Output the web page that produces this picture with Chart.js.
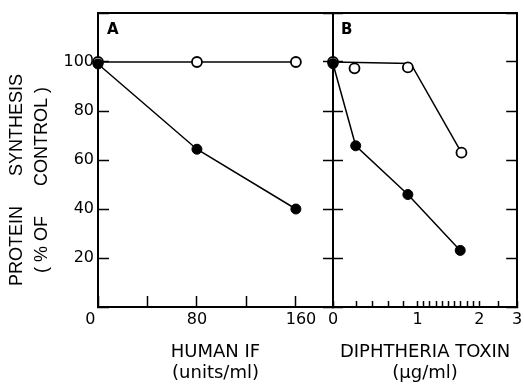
<!DOCTYPE html>
<html><head><meta charset="utf-8">
<script src="https://cdn.jsdelivr.net/npm/chart.js@4.4.1/dist/chart.umd.min.js"></script>
<style>
html,body{margin:0;padding:0;background:#fff;}
#wrap{position:relative;width:524px;height:384px;overflow:hidden;background:#fff;}
#cA{position:absolute;left:0;top:0;}
#cB{position:absolute;left:300px;top:0;}
</style></head><body>
<div id="wrap">
<canvas id="cA" width="345" height="384"></canvas>
<canvas id="cB" width="224" height="384"></canvas>
</div>
<script>
// ---------- data ----------
const IF_DOSE = [0, 80, 160];                 // human IF, units/ml
const IF_OPEN = [100, 100, 100];              // open circles
const IF_FILLED = [99.2, 64.4, 40];           // filled circles

const TOX_OPEN_DOSE = [0, 0.18, 0.86, 1.71];  // diphtheria toxin, ug/ml
const TOX_OPEN = [100, 97.4, 97.8, 63];
const TOX_OPEN_LINE_DOSE = [0, 0.9, 1.71];    // hand-drawn curve through open circles
const TOX_OPEN_LINE = [100, 99.4, 63];
const TOX_FILLED_DOSE = [0, 0.19, 0.86, 1.69];
const TOX_FILLED = [99.3, 65.8, 45.9, 23.1];

const Y_TICKS = [0, 20, 40, 60, 80, 100, 120];
const Y_LABELS = ['', '20', '40', '60', '80', '100', ''];
const IF_TICKS = [0, 40, 80, 120, 160];
const IF_LABELS = {0: '0   ', 80: '80', 160: '  160'};
const TOX_TICKS = [0, 0.2, 0.4, 0.6, 0.8, 1, 1.1, 1.2, 1.3, 1.4, 1.5, 1.6, 1.7, 1.8, 1.9, 2, 2.5, 3];
const TOX_LABELS = {0: '0', 1: '1', 2: '2', 3: '3'};

// ---------- non-linear toxin axis (as printed) ----------
function interp(v, xs, ys) {
  const n = xs.length - 1;
  if (v <= xs[0]) return ys[0] + (v - xs[0]) * (ys[1] - ys[0]) / (xs[1] - xs[0]);
  for (let i = 1; i <= n; i++) {
    if (v <= xs[i]) return ys[i - 1] + (v - xs[i - 1]) * (ys[i] - ys[i - 1]) / (xs[i] - xs[i - 1]);
  }
  return ys[n] + (v - xs[n]) * (ys[n] - ys[n - 1]) / (xs[n] - xs[n - 1]);
}
const WARP_V = [0, 0.2, 0.4, 0.6, 0.8, 1, 2, 3];
const WARP_F = [0, 24, 40, 56, 71, 85, 147, 185].map(p => p / 185);
const LinearScale = Chart.LinearScale || Chart.registry.getScale('linear');
class WarpScale extends LinearScale {
  getPixelForValue(value) {
    if (value === null || value === undefined || isNaN(value)) return NaN;
    return this.getPixelForDecimal(interp(value, WARP_V, WARP_F));
  }
  getValueForPixel(pixel) {
    return interp(this.getDecimalForPixel(pixel), WARP_F, WARP_V);
  }
}
WarpScale.id = 'warp';
WarpScale.defaults = {};
Chart.register(WarpScale);

// ---------- styling helpers ----------
const INK = '#000';
const TICK_FONT = {family: '"DejaVu Sans", sans-serif', size: 16};
const XTITLE_FONT = {family: '"DejaVu Sans", sans-serif', size: 18, lineHeight: 21 / 18};
const YTITLE_FONT = {family: '"Liberation Sans", Arial, sans-serif', size: 18, lineHeight: 25 / 18};

const setTicks = values => s => { s.ticks = values.map(v => ({value: v})); };
const fix = (dim, size) => s => {
  s[dim] = size;
  s.paddingLeft = 0; s.paddingRight = 0; s.paddingTop = 0; s.paddingBottom = 0;
};

function yAxis(position, width, tickLen, showLabels, title) {
  return {
    type: 'linear', position, min: 0, max: 120,
    afterBuildTicks: setTicks(Y_TICKS),
    afterFit: fix('width', width),
    grid: {display: true, drawOnChartArea: false, drawTicks: true, tickLength: -tickLen, tickWidth: 1.5, tickColor: INK},
    border: {display: true, color: INK, width: 2},
    ticks: {display: showLabels, font: TICK_FONT, color: INK, padding: tickLen + 4, autoSkip: false,
            callback: v => { const i = Y_TICKS.indexOf(v); return i >= 0 ? Y_LABELS[i] : ''; }},
    title: title || {display: false}
  };
}
function xAxis(type, max, ticks, labels, tickLen, titleText) {
  return {
    type, position: 'bottom', min: 0, max,
    afterBuildTicks: setTicks(ticks),
    afterFit: fix('height', 77),
    grid: {display: true, drawOnChartArea: false, drawTicks: true, tickLength: -tickLen, tickWidth: 1.5, tickColor: INK},
    border: {display: true, color: INK, width: 2},
    ticks: {font: TICK_FONT, color: INK, padding: tickLen + 3, autoSkip: false, maxRotation: 0, minRotation: 0,
            callback: v => (labels[v] !== undefined ? labels[v] : '')},
    title: {display: true, text: titleText, font: XTITLE_FONT, color: INK, padding: {top: 0, bottom: 0.5}}
  };
}
function topAxis(max) {
  return {
    type: 'linear', position: 'top', min: 0, max,
    afterFit: fix('height', 0),
    ticks: {display: false}, grid: {display: false},
    border: {display: true, color: INK, width: 2}
  };
}
const FILLED = {borderColor: INK, borderWidth: 1.5, pointRadius: 5, pointHoverRadius: 5,
  pointBackgroundColor: INK, pointBorderColor: INK, pointBorderWidth: 1, tension: 0, clip: false,
  xAxisID: 'x', yAxisID: 'y'};
const OPEN = {borderColor: INK, borderWidth: 1.5, pointRadius: 5, pointHoverRadius: 5,
  pointBackgroundColor: '#fff', pointBorderColor: INK, pointBorderWidth: 1.8, tension: 0, clip: false,
  xAxisID: 'x', yAxisID: 'y'};
const pts = (xs, ys) => xs.map((x, i) => ({x, y: ys[i]}));

const panelLetter = (txt, dx) => ({
  id: 'panelLetter',
  afterDraw(chart) {
    const {ctx, chartArea} = chart;
    ctx.save();
    ctx.font = 'bold 15px "DejaVu Sans", sans-serif';
    ctx.fillStyle = INK;
    ctx.textBaseline = 'alphabetic';
    ctx.textAlign = 'left';
    ctx.fillText(txt, chartArea.left + dx, 34);
    ctx.restore();
  }
});

const common = {
  responsive: false, animation: false, devicePixelRatio: 1,
  plugins: {legend: {display: false}, tooltip: {enabled: false}},
  events: []
};

// ---------- panel A ----------
new Chart(document.getElementById('cA'), {
  type: 'scatter',
  data: {datasets: [
    Object.assign({label: 'Human IF (filled)', data: pts(IF_DOSE, IF_FILLED), showLine: true, order: 0}, FILLED),
    Object.assign({label: 'Control (open)', data: pts(IF_DOSE, IF_OPEN), showLine: true, order: 1}, OPEN)
  ]},
  options: Object.assign({}, common, {
    layout: {padding: {top: 13, right: 12, bottom: 0, left: 0}},
    scales: {
      x: xAxis('linear', 190, IF_TICKS, IF_LABELS, 11, ['HUMAN IF', '(units/ml)']),
      xTop: topAxis(190),
      y: yAxis('left', 98, 11, true, {
        display: true,
        text: ['PROTEIN      SYNTHESIS        ', '( % OF      CONTROL )        '],
        font: YTITLE_FONT, color: INK, padding: {top: 4.5, bottom: 0}
      }),
      yR: yAxis('right', 0, 10, false)
    }
  }),
  plugins: [panelLetter('A', 9)]
});

// ---------- panel B ----------
new Chart(document.getElementById('cB'), {
  type: 'scatter',
  data: {datasets: [
    Object.assign({label: 'Toxin (filled)', data: pts(TOX_FILLED_DOSE, TOX_FILLED), showLine: true, order: 0}, FILLED),
    Object.assign({label: 'Toxin (open)', data: pts(TOX_OPEN_DOSE, TOX_OPEN), showLine: false, order: 1}, OPEN),
    Object.assign({label: 'Toxin (open) curve', data: pts(TOX_OPEN_LINE_DOSE, TOX_OPEN_LINE), showLine: true, order: 2},
      OPEN, {pointRadius: 0, pointHoverRadius: 0})
  ]},
  options: Object.assign({}, common, {
    layout: {padding: {top: 13, right: 6, bottom: 0, left: 0}},
    scales: {
      x: xAxis('warp', 3, TOX_TICKS, TOX_LABELS, 6, ['DIPHTHERIA TOXIN', '(\u00b5g/ml)']),
      xTop: topAxis(3),
      y: yAxis('left', 33, 10, false),
      yR: yAxis('right', 0, 11, false)
    }
  }),
  plugins: [panelLetter('B', 8)]
});
</script>
</body></html>
